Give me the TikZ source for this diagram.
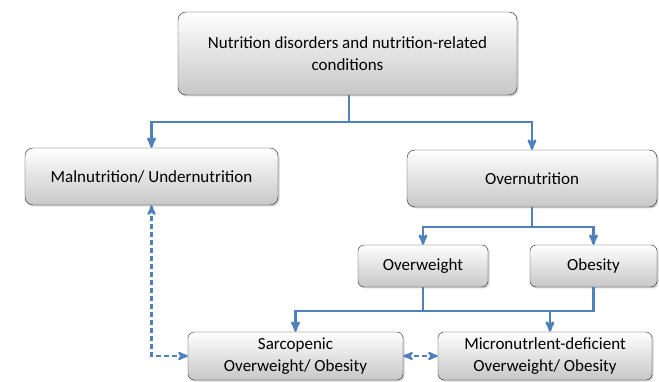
\documentclass[tikz,border=0pt]{standalone}
\usepackage{fontspec}
\setmainfont{Carlito}
\usetikzlibrary{positioning,arrows,shadows}
\definecolor{linkblue}{RGB}{79,129,189}
\tikzset{
box/.style={rectangle,draw=black!85,rounded corners=8pt,top color=white,bottom color=black!22,
drop shadow={opacity=0.35,shadow xshift=1.5pt,shadow yshift=-1.5pt},
align=center,inner sep=0pt,font=\fontsize{17}{21.5}\selectfont},
small box/.style={box,rounded corners=6pt},
conn/.style={draw=linkblue,line width=2.4pt,>=stealth'},
dconn/.style={conn,dash pattern=on 5pt off 3pt,line width=2.2pt}
}

\begin{document}
\begin{tikzpicture}[x=1pt, y=-1pt]
\useasboundingbox (0,0) rectangle (659,382);

\node[box,minimum width=339pt,minimum height=83pt] (nut) at (347.5,53.5)
  {Nutrition disorders and nutrition-related\\conditions};
\node[box,minimum width=253pt,minimum height=57pt] (mal) at (151.5,176.5)
  {Malnutrition/ Undernutrition};
\node[box,minimum width=250pt,minimum height=57pt] (over) at (532,178.5) {Overnutrition};
\node[small box,minimum width=130pt,minimum height=42pt] (ow) at (423,266) {Overweight};
\node[small box,minimum width=127pt,minimum height=42pt] (ob) at (593.5,266) {Obesity};
\node[small box,minimum width=215pt,minimum height=48pt] (sarc) at (295.5,356)
  {Sarcopenic\\Overweight/ Obesity};
\node[small box,minimum width=214pt,minimum height=48pt] (micro) at (545,356)
  {Micronutrlent-deficient\\Overweight/ Obesity};

\coordinate (split) at (349,122);
\coordinate (splitover) at (532,227);
\coordinate (join) at (550,311);

% top level
\draw[conn] (nut.south -| split) -- (split);
\draw[conn,->] (split) -| (mal.north);
\draw[conn,->] (split) -| (over.north);

% overnutrition
\draw[conn] (over.south) -- (splitover);
\draw[conn,->] (splitover) -| (ow.north);
\draw[conn,->] (splitover) -| (ob.north);

% combined forms
\draw[conn] (ow.south) |- (join);
\draw[conn] (ob.south) |- (join);
\draw[conn,->] (ow.south |- join) -| (sarc.north);
\draw[conn,->] (join) -- (micro.north -| join);

\draw[dconn,<->] (mal.south) |- (sarc.west);
\draw[dconn,<->] (sarc.east) -- (micro.west);

\end{tikzpicture}
\end{document}
